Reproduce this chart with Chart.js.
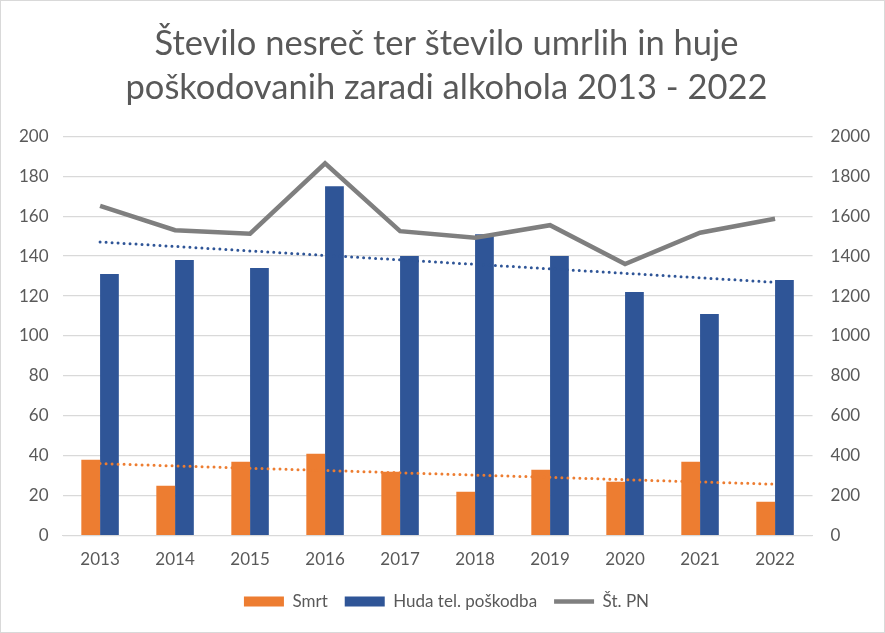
<!DOCTYPE html>
<html>
<head>
<meta charset="utf-8">
<script src="https://cdn.jsdelivr.net/npm/chart.js@4"></script>
<style>
  html, body { margin: 0; padding: 0; background: #fff; }
  #wrap { width: 883px; height: 631px; border: 1px solid #d9d9d9; }
</style>
</head>
<body>
<div id="wrap"><canvas id="myChart"></canvas></div>
<script>
const years = ['2013', '2014', '2015', '2016', '2017', '2018', '2019', '2020', '2021', '2022'];
const smrt = [38, 25, 37, 41, 32, 22, 33, 27, 37, 17];
const huda = [131, 138, 134, 175, 140, 151, 140, 122, 111, 128];
const stPN = [1652, 1530, 1512, 1865, 1525, 1492, 1555, 1360, 1517, 1587];
const leftTicks = [0, 20, 40, 60, 80, 100, 120, 140, 160, 180, 200];
const rightTicks = [0, 200, 400, 600, 800, 1000, 1200, 1400, 1600, 1800, 2000];

// linear trendline (least squares), like Excel's
function trend(values) {
  const n = values.length;
  const mx = (n - 1) / 2;
  const my = values.reduce((a, b) => a + b, 0) / n;
  let sxy = 0, sxx = 0;
  values.forEach((v, i) => { sxy += (i - mx) * (v - my); sxx += (i - mx) * (i - mx); });
  const k = sxy / sxx;
  return values.map((v, i) => my + k * (i - mx));
}

const font = 'Lato, "Liberation Sans", sans-serif';
const grey = '#595959';

const data = {
  labels: years,
  datasets: [
    {
      type: 'bar',
      label: 'Smrt',
      data: smrt,
      backgroundColor: '#ED7D31',
      yAxisID: 'y',
      order: 2,
      pointStyle: 'rect',
      categoryPercentage: 0.5,
      barPercentage: 1.0
    },
    {
      type: 'bar',
      label: 'Huda tel. poškodba',
      data: huda,
      backgroundColor: '#2F5597',
      yAxisID: 'y',
      order: 2,
      pointStyle: 'rect',
      categoryPercentage: 0.5,
      barPercentage: 1.0
    },
    {
      type: 'line',
      label: 'Št. PN',
      data: stPN,
      borderColor: '#7F7F7F',
      backgroundColor: '#7F7F7F',
      borderWidth: 4.5,
      pointRadius: 0,
      pointStyle: 'line',
      tension: 0,
      yAxisID: 'y1',
      order: 0
    },
    {
      type: 'line',
      label: 'trend Smrt',
      data: trend(smrt),
      borderColor: '#ED7D31',
      borderWidth: 3,
      borderDash: [0, 6],
      borderCapStyle: 'round',
      pointRadius: 0,
      yAxisID: 'y',
      order: 1
    },
    {
      type: 'line',
      label: 'trend Huda',
      data: trend(huda),
      borderColor: '#2F5597',
      borderWidth: 3,
      borderDash: [0, 6],
      borderCapStyle: 'round',
      pointRadius: 0,
      yAxisID: 'y',
      order: 1
    }
  ]
};

const options = {
  responsive: true,
  maintainAspectRatio: false,
  animation: false,
  layout: {
    padding: { left: 4, right: -4, top: 21, bottom: 12 }
  },
  plugins: {
    title: {
      display: true,
      text: ['Število nesreč ter število umrlih in huje', 'poškodovanih zaradi alkohola 2013 - 2022'],
      color: grey,
      font: { family: font, size: 34.5, weight: 'normal', lineHeight: 1.28 },
      padding: { top: 0, bottom: 26 }
    },
    legend: {
      position: 'bottom',
      labels: {
        color: grey,
        usePointStyle: true,
        pointStyleWidth: 40,
        boxHeight: 10,
        padding: 17,
        filter: (item) => item.datasetIndex < 3,
        sort: (a, b) => a.datasetIndex - b.datasetIndex,
        font: { family: font, size: 17 }
      }
    },
    tooltip: { enabled: false }
  },
  scales: {
    x: {
      grid: { display: false },
      border: { color: '#d9d9d9' },
      ticks: { color: grey, font: { family: font, size: 17 }, padding: 6 }
    },
    y: {
      position: 'left',
      min: 0,
      max: 200,
      afterBuildTicks: (axis) => { axis.ticks = leftTicks.map(v => ({ value: v })); },
      grid: { color: '#d9d9d9', lineWidth: 1.3, drawTicks: false },
      border: { display: false },
      ticks: { color: grey, font: { family: font, size: 17 }, padding: 14 }
    },
    y1: {
      position: 'right',
      min: 0,
      max: 2000,
      afterBuildTicks: (axis) => { axis.ticks = rightTicks.map(v => ({ value: v })); },
      grid: { display: false, drawTicks: false },
      border: { display: false },
      ticks: { color: grey, font: { family: font, size: 17 }, padding: 18, callback: (v) => String(v) }
    }
  }
};

new Chart(document.getElementById('myChart'), {
  data: data,
  options: options
});
</script>
</body>
</html>
